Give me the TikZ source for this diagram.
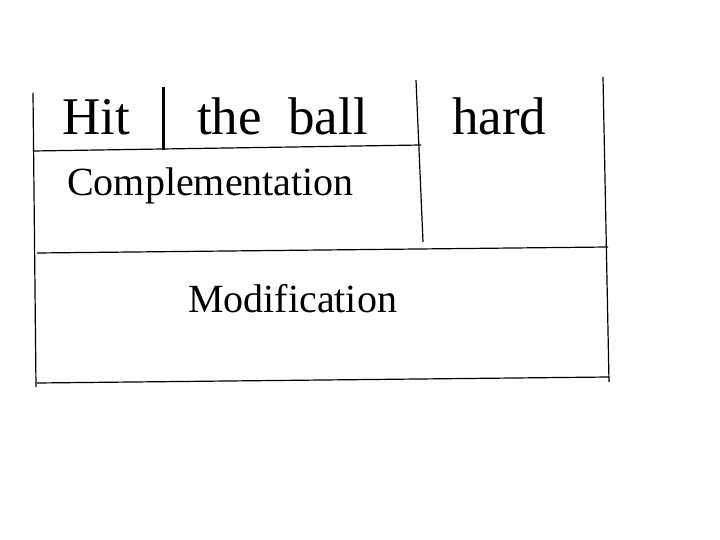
\documentclass[tikz,border=0pt]{standalone}
\usepackage{fontspec}
\setmainfont{Liberation Serif}
\begin{document}
\begin{tikzpicture}[x=1pt,y=-1pt,
  rule/.style={line width=1.2pt, black},
  bar/.style={line width=3pt, black},
  big/.style={inner sep=0pt, anchor=base west, font=\fontsize{53}{60}\selectfont},
  mid/.style={inner sep=0pt, anchor=base west, font=\fontsize{40}{46}\selectfont}]
\useasboundingbox (0,0) rectangle (720,540);
% coordinates
\coordinate (lt) at (33,93);
\coordinate (lb) at (36,387);
\coordinate (h1l) at (33,151);
\coordinate (h1r) at (421,145);
\coordinate (mt) at (416,80);
\coordinate (mb) at (423,242);
\coordinate (rt) at (603,77);
\coordinate (rb) at (609,382);
\coordinate (h2l) at (37,253);
\coordinate (h2r) at (608,247);
\coordinate (h3l) at (37,383);
\coordinate (h3r) at (609,377);
\coordinate (bt) at (163,87);
\coordinate (bb) at (163,150);
% lines
\draw[rule] (lt) -- (lb);
\draw[rule] (h1l) -- (h1r);
\draw[rule] (mt) -- (mb);
\draw[rule] (rt) -- (rb);
\draw[rule] (h2l) -- (h2r);
\draw[rule] (h3l) -- (h3r);
\draw[bar] (bt) -- (bb);
% texts
\node[big] (hit) at (62,135) {Hit};
\node[big] (ball) at (197,135) {the\ \ ball};
\node[big] (hard) at (452,135) {hard};
\node[mid] (comp) at (67,196) {Complementation};
\node[mid] (mod) at (188,312) {Modification};
\end{tikzpicture}
\end{document}
